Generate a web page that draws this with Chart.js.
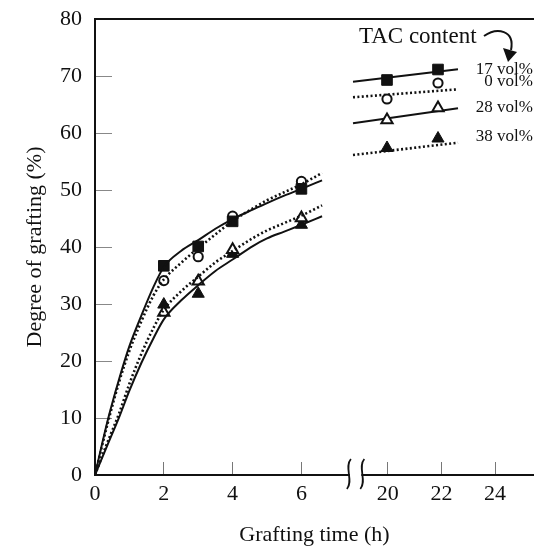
<!DOCTYPE html>
<html>
<head>
<meta charset="utf-8">
<script src="https://cdn.jsdelivr.net/npm/chart.js@4"></script>
<style>
  html, body { margin: 0; padding: 0; background: #fff; }
</style>
</head>
<body>
<canvas id="myChart" width="534" height="546"></canvas>
<script>
// measured points (grafting time in h, degree of grafting in %)
const times = [2, 3, 4, 6];
const tac17 = [36.7, 40.1, 44.5, 50.2];
const tac0 = [34.1, 38.3, 45.4, 51.5];
const tac28 = [28.5, 34.0, 39.5, 45.1];
const tac38 = [29.9, 31.8, 38.8, 43.9];

// fitted curves
const fitTimes = [0, 0.2, 0.4, 0.7, 1.0, 1.35, 1.7, 2, 2.5, 3, 3.5, 4, 4.6, 5, 5.5, 6, 6.6];
const fit17 = [0, 5.3, 10.3, 16.8, 22.6, 28.0, 33.0, 36.5, 39.3, 41.2, 43.2, 44.9, 46.6, 47.7, 49.0, 50.2, 51.7];
const fit0 = [0, 5.0, 9.8, 16.3, 21.8, 27.0, 31.5, 34.3, 37.2, 39.8, 42.2, 44.6, 46.8, 48.2, 49.6, 51.0, 53.0];
const fit28 = [0, 2.9, 5.8, 10.1, 14.8, 19.7, 24.0, 27.3, 30.6, 33.3, 35.8, 37.8, 40.2, 41.5, 42.7, 43.9, 45.4];
const fit38 = [0, 3.2, 6.3, 10.8, 16.0, 21.3, 25.8, 29.0, 32.2, 34.8, 37.3, 39.3, 41.6, 42.9, 44.2, 45.5, 47.3];

const seriesLabels = ['17 vol%', '0 vol%', '28 vol%', '38 vol%'];
const xTicks = [0, 2, 4, 6, 20, 22, 24];
const legendTitle = 'TAC content';

// broken axis: 0..7.5 h as is, 20 h and up squeezed in after the break
function toAxis(t) {
    return t <= 7.5 ? t : 8.51 + (t - 20) * 0.78;
}

function pts(xs, ys) {
    return xs.map((t, i) => ({ x: toAxis(t), y: ys[i] }));
}

const ink = '#111';
const serif = '"Liberation Serif", "DejaVu Serif", serif';

function curve(data, dotted) {
    return {
        data: pts(fitTimes, data),
        showLine: true,
        borderColor: ink,
        borderWidth: dotted ? 2.6 : 2,
        borderDash: dotted ? [2, 2.4] : [],
        pointRadius: 0,
        cubicInterpolationMode: 'monotone'
    };
}

function marks(data, style, filled, radius) {
    return {
        data: pts(times, data),
        showLine: false,
        pointStyle: style,
        pointRadius: radius,
        pointBackgroundColor: filled ? ink : '#fff',
        pointBorderColor: ink,
        pointBorderWidth: filled ? 1 : 2
    };
}

const datasets = [
    curve(fit17, false),
    curve(fit0, true),
    curve(fit38, true),
    curve(fit28, false),
    marks(tac17, 'rect', true, 7.5),
    marks(tac0, 'circle', false, 4.6),
    marks(tac28, 'triangle', false, 6.5),
    marks(tac38, 'triangle', true, 7)
];

// frame top line, the axis break and the hand made legend
const extras = {
    id: 'extras',
    afterDraw(chart) {
        const ctx = chart.ctx;
        const a = chart.chartArea;
        const xs = chart.scales.x;
        ctx.save();
        ctx.strokeStyle = ink;
        ctx.fillStyle = ink;

        ctx.lineWidth = 2;
        ctx.beginPath();
        ctx.moveTo(a.left, a.top);
        ctx.lineTo(a.right, a.top);
        ctx.stroke();

        // break in the x axis
        const b1 = xs.getPixelForValue(7.38);
        const b2 = xs.getPixelForValue(7.77);
        ctx.fillStyle = '#fff';
        ctx.fillRect(b1 + 1, a.bottom - 3, b2 - b1 - 2, 6);
        ctx.lineWidth = 1.8;
        [b1, b2].forEach(bx => {
            ctx.beginPath();
            ctx.moveTo(bx + 2, a.bottom - 16);
            ctx.bezierCurveTo(bx - 5, a.bottom - 8, bx + 5, a.bottom + 6, bx - 2, a.bottom + 14);
            ctx.stroke();
        });

        // legend
        ctx.fillStyle = ink;
        ctx.font = '23px ' + serif;
        ctx.textAlign = 'left';
        ctx.textBaseline = 'alphabetic';
        ctx.fillText(legendTitle, 359, 43);

        ctx.lineWidth = 2;
        ctx.beginPath();
        ctx.moveTo(484, 36);
        ctx.bezierCurveTo(497, 27, 515, 30, 511, 50);
        ctx.stroke();
        ctx.beginPath();
        ctx.moveTo(508, 62);
        ctx.lineTo(503, 48);
        ctx.lineTo(517, 52);
        ctx.closePath();
        ctx.fill();

        const rows = [
            { y: [81.7, 69.3], m: [80, 69.5], ds: 4, dotted: false, ly: 70 },
            { y: [97.3, 89.3], m: [99, 83], ds: 5, dotted: true, ly: 82 },
            { y: [123.3, 108.3], m: [120, 108], ds: 6, dotted: false, ly: 108 },
            { y: [155, 142.7], m: [148, 138.5], ds: 7, dotted: true, ly: 137 }
        ];
        rows.forEach((r, i) => {
            const d = chart.data.datasets[r.ds];
            ctx.strokeStyle = ink;
            ctx.lineWidth = r.dotted ? 2.6 : 2;
            ctx.setLineDash(r.dotted ? [2, 2.4] : []);
            ctx.beginPath();
            ctx.moveTo(353, r.y[0]);
            ctx.lineTo(458, r.y[1]);
            ctx.stroke();
            ctx.setLineDash([]);
            [387, 438].forEach((mx, k) => {
                ctx.fillStyle = d.pointBackgroundColor;
                ctx.strokeStyle = d.pointBorderColor;
                ctx.lineWidth = d.pointBorderWidth;
                Chart.helpers.drawPoint(ctx, {
                    pointStyle: d.pointStyle,
                    radius: d.pointRadius,
                    rotation: 0,
                    borderWidth: d.pointBorderWidth
                }, mx, r.m[k]);
            });
            ctx.fillStyle = ink;
            ctx.font = '17px ' + serif;
            ctx.textAlign = 'right';
            ctx.textBaseline = 'middle';
            ctx.fillText(seriesLabels[i], 533, r.ly);
        });
        ctx.restore();
    }
};

const ctx = document.getElementById('myChart');

new Chart(ctx, {
    type: 'scatter',
    data: { datasets: datasets },
    options: {
        responsive: false,
        animation: false,
        devicePixelRatio: 1,
        layout: {
            autoPadding: false,
            padding: { top: 19, right: 0, left: 0, bottom: 0 }
        },
        plugins: {
            legend: { display: false },
            tooltip: { enabled: false }
        },
        scales: {
            x: {
                type: 'linear',
                min: 0,
                max: 12.76,
                afterBuildTicks: scale => {
                    scale.ticks = xTicks.map(t => ({ value: toAxis(t) }));
                },
                afterFit: scale => {
                    scale.height = 71;
                    scale.paddingLeft = 0;
                    scale.paddingRight = 0;
                },
                ticks: {
                    padding: 19,
                    color: ink,
                    font: { family: serif, size: 22 },
                    maxRotation: 0,
                    autoSkip: false,
                    callback: (value, index) => String(xTicks[index])
                },
                grid: {
                    drawOnChartArea: false,
                    drawTicks: true,
                    tickLength: -13,
                    color: '#777',
                    lineWidth: 1
                },
                border: { display: true, color: ink, width: 2 },
                title: {
                    display: true,
                    text: 'Grafting time (h)',
                    color: ink,
                    font: { family: serif, size: 22, lineHeight: 1 },
                    padding: { top: 0, bottom: 0 }
                }
            },
            y: {
                min: 0,
                max: 80,
                afterFit: scale => {
                    scale.width = 95;
                    scale.paddingTop = 0;
                    scale.paddingBottom = 0;
                },
                ticks: {
                    stepSize: 10,
                    padding: 30,
                    color: ink,
                    font: { family: serif, size: 22 }
                },
                grid: {
                    drawOnChartArea: false,
                    drawTicks: true,
                    tickLength: -17,
                    color: '#888',
                    lineWidth: 1
                },
                border: { display: true, color: ink, width: 2 },
                title: {
                    display: true,
                    text: 'Degree of grafting (%)',
                    color: ink,
                    font: { family: serif, size: 22 },
                    padding: { top: 22, bottom: 0 }
                }
            }
        }
    },
    plugins: [extras]
});
</script>
</body>
</html>
